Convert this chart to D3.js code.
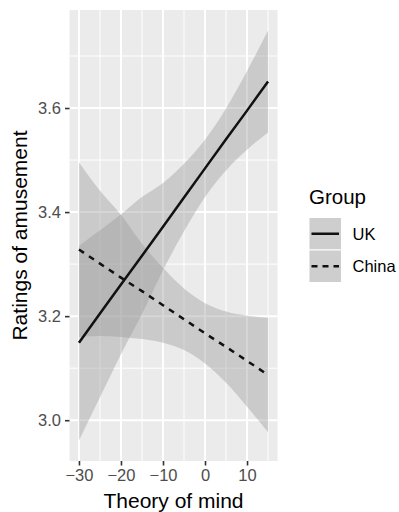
<!DOCTYPE html>
<html>
<head>
<meta charset="utf-8">
<script src="https://cdn.jsdelivr.net/npm/d3@7"></script>
<style>
  html, body { margin: 0; padding: 0; background: #fff; }
  svg { display: block; font-family: "Liberation Sans", Arial, Helvetica, sans-serif; }
</style>
</head>
<body>
<svg id="chart" width="399" height="512"></svg>
<script>
// Theory-of-mind score sampled along the x axis
const tom = [-30, -25, -20, -15, -10, -5, 0, 5, 10, 15];

// Fitted ratings and 95% confidence band, UK group
const ukFit   = [3.149, 3.205, 3.261, 3.316, 3.372, 3.428, 3.484, 3.540, 3.595, 3.651];
const ukLower = [2.961, 3.044, 3.127, 3.204, 3.288, 3.363, 3.429, 3.480, 3.520, 3.553];
const ukUpper = [3.335, 3.365, 3.396, 3.429, 3.456, 3.493, 3.539, 3.599, 3.671, 3.749];

// Fitted ratings and 95% confidence band, China group
const cnFit   = [3.328, 3.301, 3.274, 3.248, 3.221, 3.194, 3.167, 3.141, 3.114, 3.087];
const cnLower = [3.160, 3.162, 3.160, 3.156, 3.149, 3.135, 3.109, 3.072, 3.026, 2.977];
const cnUpper = [3.496, 3.441, 3.395, 3.339, 3.293, 3.253, 3.225, 3.209, 3.201, 3.197];

const groups = ["UK", "China"];
const xTicks = [-30, -20, -10, 0, 10];
const xMinor = [-25, -15, -5, 5, 15];
const yTicks = [3.0, 3.2, 3.4, 3.6];
const yMinor = [3.1, 3.3, 3.5, 3.7];

const series = [
  { name: "UK",    fit: ukFit, lo: ukLower, hi: ukUpper, dash: null },
  { name: "China", fit: cnFit, lo: cnLower, hi: cnUpper, dash: "6,6" }
];

const svg = d3.select("#chart");
const panel = { left: 69.5, right: 277.5, top: 10, bottom: 461 };

// ggplot-style 5% expansion around the data range
const xr = d3.extent(tom);
const xPad = (xr[1] - xr[0]) * 0.05;
const allY = [].concat(ukLower, ukUpper, cnLower, cnUpper);
const yr = d3.extent(allY);
const yPad = (yr[1] - yr[0]) * 0.05;

const x = d3.scaleLinear().domain([xr[0] - xPad, xr[1] + xPad]).range([panel.left, panel.right]);
const y = d3.scaleLinear().domain([yr[0] - yPad, yr[1] + yPad]).range([panel.bottom, panel.top]);

// panel background
svg.append("rect")
  .attr("x", panel.left).attr("y", panel.top)
  .attr("width", panel.right - panel.left).attr("height", panel.bottom - panel.top)
  .attr("fill", "#EBEBEB");

const grid = svg.append("g").attr("stroke", "#fff");
grid.selectAll(".xminor").data(xMinor).join("line")
  .attr("x1", d => x(d)).attr("x2", d => x(d))
  .attr("y1", panel.top).attr("y2", panel.bottom).attr("stroke-width", 1);
grid.selectAll(".yminor").data(yMinor).join("line")
  .attr("y1", d => y(d)).attr("y2", d => y(d))
  .attr("x1", panel.left).attr("x2", panel.right).attr("stroke-width", 1);
grid.selectAll(".xmajor").data(xTicks).join("line")
  .attr("x1", d => x(d)).attr("x2", d => x(d))
  .attr("y1", panel.top).attr("y2", panel.bottom).attr("stroke-width", 2);
grid.selectAll(".ymajor").data(yTicks).join("line")
  .attr("y1", d => y(d)).attr("y2", d => y(d))
  .attr("x1", panel.left).attr("x2", panel.right).attr("stroke-width", 2);

// confidence bands
const band = d3.area()
  .x(d => x(d.t)).y0(d => y(d.lo)).y1(d => y(d.hi))
  .curve(d3.curveMonotoneX);
const fitLine = d3.line().x(d => x(d.t)).y(d => y(d.v));

series.forEach(s => {
  const pts = tom.map((t, i) => ({ t, lo: s.lo[i], hi: s.hi[i] }));
  svg.append("path").datum(pts)
    .attr("d", band)
    .attr("fill", "#999999").attr("fill-opacity", 0.4);
});

series.forEach(s => {
  const pts = tom.map((t, i) => ({ t, v: s.fit[i] }));
  svg.append("path").datum(pts)
    .attr("d", fitLine)
    .attr("fill", "none").attr("stroke", "#111")
    .attr("stroke-width", 2.5)
    .attr("stroke-dasharray", s.dash);
});

// axes
const xAxis = svg.append("g")
  .attr("transform", `translate(0,${panel.bottom})`)
  .call(d3.axisBottom(x).tickValues(xTicks).tickSize(4.5).tickPadding(4)
        .tickFormat(d => d < 0 ? "\u2212" + Math.abs(d) : String(d)));
xAxis.select(".domain").remove();
xAxis.selectAll(".tick line").attr("stroke", "#333").attr("stroke-width", 1.6);
xAxis.selectAll(".tick text").attr("fill", "#4D4D4D").attr("font-size", 16.5)
  .attr("font-family", "Liberation Sans, Arial, sans-serif");

const yAxis = svg.append("g")
  .attr("transform", `translate(${panel.left},0)`)
  .call(d3.axisLeft(y).tickValues(yTicks).tickSize(4.5).tickPadding(4)
        .tickFormat(d3.format(".1f")));
yAxis.select(".domain").remove();
yAxis.selectAll(".tick line").attr("stroke", "#333").attr("stroke-width", 1.6);
yAxis.selectAll(".tick text").attr("fill", "#4D4D4D").attr("font-size", 16.5)
  .attr("font-family", "Liberation Sans, Arial, sans-serif");

// axis titles
svg.append("text")
  .attr("x", (panel.left + panel.right) / 2).attr("y", 508)
  .attr("text-anchor", "middle").attr("font-size", 21).attr("fill", "#000")
  .text("Theory of mind");
svg.append("text")
  .attr("transform", `translate(26.5,${(panel.top + panel.bottom) / 2}) rotate(-90)`)
  .attr("text-anchor", "middle").attr("font-size", 21).attr("fill", "#000")
  .text("Ratings of amusement");

// legend
const legend = svg.append("g").attr("transform", "translate(309,0)");
legend.append("text").attr("x", 0).attr("y", 203.5)
  .attr("font-size", 20.5).attr("fill", "#000").text("Group");

const keyTop = 217.5, keySize = 32.5;
series.forEach((s, i) => {
  const ky = keyTop + i * keySize;
  legend.append("rect")
    .attr("x", 0).attr("y", ky).attr("width", keySize).attr("height", keySize)
    .attr("fill", "#F2F2F2").attr("stroke", "#fff").attr("stroke-width", 1);
  legend.append("rect")
    .attr("x", 0.5).attr("y", ky + 0.5).attr("width", keySize - 1).attr("height", keySize - 1)
    .attr("fill", "#999999").attr("fill-opacity", 0.4);
  legend.append("line")
    .attr("x1", 2.5).attr("x2", keySize - 2.5)
    .attr("y1", ky + keySize / 2).attr("y2", ky + keySize / 2)
    .attr("stroke", "#111").attr("stroke-width", 2.5)
    .attr("stroke-dasharray", s.dash ? "6,5" : null);
  legend.append("text")
    .attr("x", 43.5).attr("y", ky + keySize / 2 + 6)
    .attr("font-size", 16.5).attr("fill", "#000")
    .text(groups[i]);
});
</script>
</body>
</html>
